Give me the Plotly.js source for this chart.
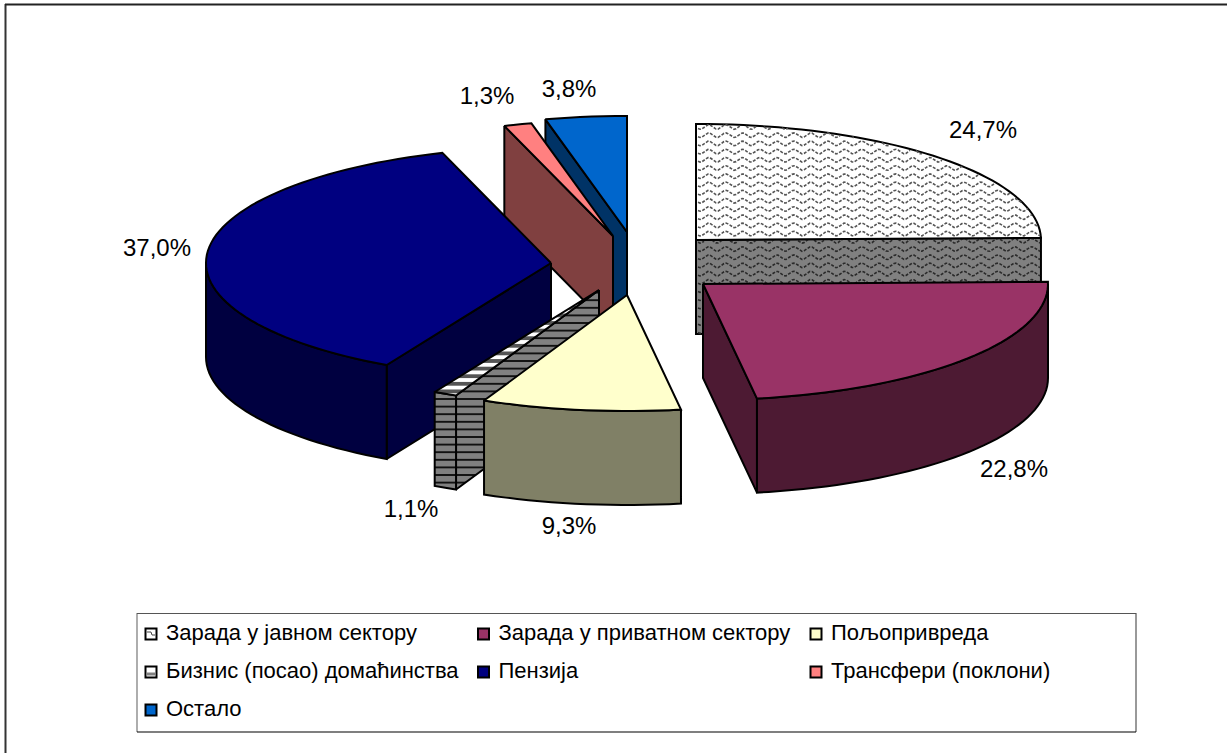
<!DOCTYPE html>
<html><head><meta charset="utf-8">
<script src="https://cdn.plot.ly/plotly-3.0.1.min.js"></script>
<style>html,body{margin:0;padding:0;background:#fff}</style></head>
<body><div id="chart" style="width:1227px;height:753px"></div>
<script>
const categories = ['Зарада у јавном сектору','Зарада у приватном сектору','Пољопривреда','Бизнис (посао) домаћинства','Пензија','Трансфери (поклони)','Остало'];
const shares = [24.7,22.8,9.3,1.1,37.0,1.3,3.8];
const topColors = ['#FFFFFF','#993366','#FFFFCC','#FFFFFF','#000080','#FF8080','#0066CC'];
const sideColors = ['#808080','#4D1A33','#808066','#808080','#000040','#804040','#003366'];
// pie projection (layout constants, the axes run in page pixels)
const RX = 345, RY = 116, DEPTH = 94;
const apexX = [696,703,627,599,551,613,627];
const apexY = [240,284,295,290,263,236,232];
const labelX = [983,1014,569,411,157,487,569];
const labelY = [132,471,528,511,250,98,91];
const legendX = [151,483.5,816,151,483.5,816,151];
const legendY = [634,634,634,672,672,672,710];
const drawOrder = [0,6,5,4,3,2,1];
const FONT = 'Liberation Sans, Arial, sans-serif';

const starts = []; let acc = 0;
shares.forEach(v => { starts.push(acc); acc += v; });
const total = acc;
const deg = v => v / total * 360;
function pt(i, a, dy) {
  const r = a * Math.PI / 180;
  return [apexX[i] + RX * Math.sin(r), apexY[i] - RY * Math.cos(r) + (dy || 0)];
}
function arc(i, a0, a1, dy) {
  const n = Math.max(2, Math.ceil(Math.abs(a1 - a0) / 2)), out = [];
  for (let k = 0; k <= n; k++) out.push(pt(i, a0 + (a1 - a0) * k / n, dy));
  return out;
}
function poly(points, color, pattern) {
  const closed = points.concat([points[0]]);
  const t = {type:'scatter', mode:'lines', x:closed.map(p=>p[0]), y:closed.map(p=>p[1]),
    fill:'toself', fillcolor:color, line:{color:'#000', width:2, simplify:false}, hoverinfo:'skip'};
  if (pattern) t.fillpattern = pattern;
  return t;
}
function inside(poly, x, y) {
  let c = false;
  for (let i = 0, j = poly.length - 1; i < poly.length; j = i++) {
    const a = poly[i], b = poly[j];
    if ((a[1] > y) !== (b[1] > y) && x < (b[0]-a[0])*(y-a[1])/(b[1]-a[1])+a[0]) c = !c;
  }
  return c;
}
function waves(points, color) {
  const ys = points.map(p=>p[1]), xs = points.map(p=>p[0]);
  const y0 = Math.min(...ys), y1 = Math.max(...ys), x0 = Math.min(...xs), x1 = Math.max(...xs);
  const X = [], Y = [];
  for (let y = y0 + 3; y < y1 - 1; y += 8.2) {
    for (let x = x0 + 2; x < x1; x += 2) {
      const yy = y + 2.3 * Math.sin((x - x0) / 17 * 2 * Math.PI);
      if (inside(points, x, yy)) { X.push(x); Y.push(yy); } else { X.push(null); Y.push(null); }
    }
    X.push(null); Y.push(null);
  }
  return {type:'scatter', mode:'lines', x:X, y:Y, connectgaps:false,
    line:{color:color, width:1.6, dash:'3px 1.5px'}, hoverinfo:'skip'};
}
const traces = [];
drawOrder.forEach(i => {
  const a0 = deg(starts[i]), a1 = a0 + deg(shares[i]);
  const hatch = i === 3;
  const sideP = hatch ? {shape:'-', bgcolor:'#808080', fgcolor:'#111', size:7.6, solidity:0.25} : null;
  const topP = hatch ? {shape:'-', bgcolor:'#FFFFFF', fgcolor:'#555', size:7.6, solidity:0.5} : null;
  const apex = [apexX[i], apexY[i]], apexLow = [apexX[i], apexY[i] + DEPTH];
  const faces = [];
  if (a0 > 180 && a0 < 360) faces.push([apex, pt(i,a0), pt(i,a0,DEPTH), apexLow]);
  if (a1 > 0 && a1 < 180) faces.push([apex, pt(i,a1), pt(i,a1,DEPTH), apexLow]);
  const w0 = Math.max(a0, 90), w1 = Math.min(a1, 270);
  if (w1 > w0) faces.push(arc(i,w0,w1).concat(arc(i,w1,w0,DEPTH)));
  faces.forEach(f => {
    traces.push(poly(f, sideColors[i], sideP));
    if (i === 0) traces.push(waves(f, '#2a2a2a'));
  });
  const top = [apex].concat(arc(i,a0,a1));
  traces.push(poly(top, topColors[i], topP));
  if (i === 0) traces.push(waves(top, '#555555'));
});
// data labels
traces.push({type:'scatter', mode:'text', x:labelX, y:labelY,
  text:shares.map(v => v.toFixed(1).replace('.', ',') + '%'),
  textposition:'middle center', textfont:{family:FONT, size:24, color:'#000'}, hoverinfo:'skip'});
// legend keys and names
traces.push({type:'scatter', mode:'markers', x:legendX, y:legendY,
  marker:{symbol:'square', size:11, color:topColors, line:{color:'#000', width:2}}, hoverinfo:'skip'});
traces.push({type:'scatter', mode:'lines', x:[legendX[3]-4.5,legendX[3]+4.5], y:[legendY[3]+2,legendY[3]+2],
  line:{color:'#808080', width:3}, hoverinfo:'skip'});
traces.push({type:'scatter', mode:'lines', x:[legendX[0]-4,legendX[0],legendX[0]+1,legendX[0]+4], y:[legendY[0]-2,legendY[0]-2,legendY[0]+1,legendY[0]+1],
  line:{color:'#444', width:1}, hoverinfo:'skip'});
traces.push({type:'scatter', mode:'text', x:legendX.map(x=>x+15), y:legendY, text:categories,
  textposition:'middle right', textfont:{family:FONT, size:22, color:'#000'}, hoverinfo:'skip'});

const hidden = {visible:false, fixedrange:true};
Plotly.newPlot('chart', traces, {
  width:1227, height:753, margin:{l:0,r:0,t:0,b:0}, showlegend:false,
  paper_bgcolor:'#fff', plot_bgcolor:'#fff',
  xaxis:Object.assign({range:[0,1227]}, hidden),
  yaxis:Object.assign({range:[753,0]}, hidden),
  shapes:[
    {type:'line', layer:'below', x0:5.5, x1:5.5, y0:4, y1:753, line:{color:'#333', width:2}},
    {type:'line', layer:'below', x0:5, x1:1227, y0:4.5, y1:4.5, line:{color:'#222', width:2}},
    {type:'line', layer:'below', x0:137, x1:137, y0:613, y1:732, line:{color:'#777', width:1.2}},
    {type:'line', layer:'below', x0:1136, x1:1136, y0:613, y1:732, line:{color:'#777', width:1.5}},
    {type:'line', layer:'below', x0:137, x1:1136, y0:613.5, y1:613.5, line:{color:'#555', width:1.2}},
    {type:'line', layer:'below', x0:137, x1:1136, y0:732, y1:732, line:{color:'#000', width:1.2}}
  ]
}, {displayModeBar:false, staticPlot:true});
</script></body></html>
